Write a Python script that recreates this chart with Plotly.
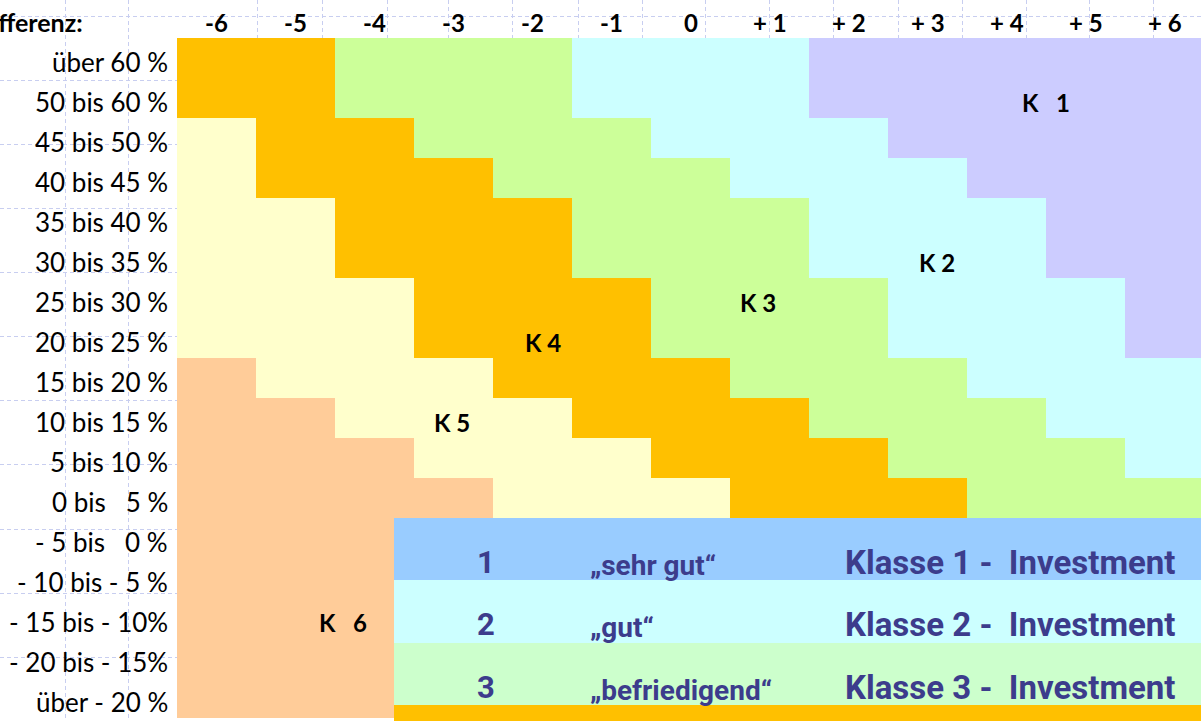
import plotly.graph_objects as go

# ---------------- data ----------------
col_labels = ["-6", "-5", "-4", "-3", "-2", "-1", "0", "+ 1", "+ 2", "+ 3", "+ 4", "+ 5", "+ 6"]
row_labels = ["über 60 %", "50 bis 60 %", "45 bis 50 %", "40 bis 45 %", "35 bis 40 %",
              "30 bis 35 %", "25 bis 30 %", "20 bis 25 %", "15 bis 20 %", "10 bis 15 %",
              "5 bis 10 %", "0 bis \u00a0 5 %", "- 5 bis \u00a0 0 %", "- 10 bis - 5 %",
              "- 15 bis - 10%", "- 20 bis - 15%", "über - 20 %"]

# class (K1..K6) of every cell, one list per row (top to bottom)
classes = [
    [4, 4, 3, 3, 3, 2, 2, 2, 1, 1, 1, 1, 1],
    [4, 4, 3, 3, 3, 2, 2, 2, 1, 1, 1, 1, 1],
    [5, 4, 4, 3, 3, 3, 2, 2, 2, 1, 1, 1, 1],
    [5, 4, 4, 4, 3, 3, 3, 2, 2, 2, 1, 1, 1],
    [5, 5, 4, 4, 4, 3, 3, 3, 2, 2, 2, 1, 1],
    [5, 5, 4, 4, 4, 3, 3, 3, 2, 2, 2, 1, 1],
    [5, 5, 5, 4, 4, 4, 3, 3, 3, 2, 2, 2, 1],
    [5, 5, 5, 4, 4, 4, 3, 3, 3, 2, 2, 2, 1],
    [6, 5, 5, 5, 4, 4, 4, 3, 3, 3, 2, 2, 2],
    [6, 6, 5, 5, 5, 4, 4, 4, 3, 3, 3, 2, 2],
    [6, 6, 6, 5, 5, 5, 4, 4, 4, 3, 3, 3, 2],
    [6, 6, 6, 6, 5, 5, 5, 4, 4, 4, 3, 3, 3],
    [6, 6, 6, 6, 6, 6, 6, 6, 6, 6, 6, 6, 6],
    [6, 6, 6, 6, 6, 6, 6, 6, 6, 6, 6, 6, 6],
    [6, 6, 6, 6, 6, 6, 6, 6, 6, 6, 6, 6, 6],
    [6, 6, 6, 6, 6, 6, 6, 6, 6, 6, 6, 6, 6],
    [6, 6, 6, 6, 6, 6, 6, 6, 6, 6, 6, 6, 6],
]
class_colors = ["#CCCCFF", "#CCFFFF", "#CCFF99", "#FFC000", "#FFFFCC", "#FFCC99"]  # K1..K6
class_names = ["K \u00a0 1", "K 2", "K 3", "K 4", "K 5", "K \u00a0 6"]
class_label_pos = [(10.5, 1.0), (9.12, 5.0), (6.85, 6.0), (4.13, 7.0), (2.98, 9.0), (1.6, 14.0)]

legend_nums = ["1", "2", "3"]
legend_grades = ["\u201esehr gut\u201c", "\u201egut\u201c", "\u201ebefriedigend\u201c"]
legend_classes = ["Klasse 1 - \u00a0Investment", "Klasse 2 - \u00a0Investment", "Klasse 3 - \u00a0Investment"]
legend_colors = ["#99CCFF", "#CCFFFF", "#CCFFCC", "#FFC000"]

# ---------------- geometry helpers (pixel -> data) ----------------
W, H = 1201, 721
CW, RH = 79.0, 40.0
X0PX, Y0PX = 177.0, 38.0


def xd(px):
    return (px - X0PX) / CW - 0.5


def yd(py):
    return (py - Y0PX) / RH - 0.5


n = len(class_colors)
cscale = []
for i, c in enumerate(class_colors):
    cscale.append([i / n, c])
    cscale.append([(i + 1) / n, c])

fig = go.Figure()
fig.add_trace(go.Heatmap(
    x=list(range(len(col_labels))), y=list(range(len(row_labels))), z=classes,
    colorscale=cscale, zmin=0.5, zmax=n + 0.5, showscale=False, hoverinfo="skip",
    xgap=0, ygap=0,
))

LABEL_FONT = "Lato, 'Open Sans', sans-serif"
ann = []
# column headers
for i, t in enumerate(col_labels):
    ann.append(dict(x=i, y=yd(22), text=t, showarrow=False, xanchor="center", yanchor="middle",
                    font=dict(family=LABEL_FONT, size=24, color="black", weight="bold")))
ann.append(dict(x=xd(85), y=yd(22), text="Differenz:", showarrow=False, xanchor="right", yanchor="middle",
                font=dict(family=LABEL_FONT, size=25, color="black", weight="bold")))
# row labels
for j, t in enumerate(row_labels):
    ann.append(dict(x=xd(170), y=j, yshift=-4, text=t, showarrow=False, xanchor="right", yanchor="middle",
                    font=dict(family=LABEL_FONT, size=26, color="black")))
# class labels
for (cx, cy), t in zip(class_label_pos, class_names):
    ann.append(dict(x=cx, y=cy, yshift=-4, text=t, showarrow=False, xanchor="center", yanchor="middle",
                    font=dict(family=LABEL_FONT, size=24, color="black", weight="bold")))

# legend box
shapes = []
band_px = [518, 580, 643, 705, 730]
for k, c in enumerate(legend_colors):
    shapes.append(dict(type="rect", xref="x", yref="y", x0=xd(394), x1=xd(1230),
                       y0=yd(band_px[k]), y1=yd(band_px[k + 1]), fillcolor=c, line=dict(width=0),
                       layer="above"))
LEG = "#3C3C8C"
LEG_FONT = "Roboto, 'Liberation Sans', Arial, sans-serif"
for k in range(3):
    base = band_px[k] + 44
    ann.append(dict(x=xd(486), y=yd(base), text=legend_nums[k], showarrow=False, xanchor="center",
                    yanchor="middle", font=dict(family=LEG_FONT, size=31, color=LEG, weight="bold")))
    ann.append(dict(x=xd(588), y=yd(base + 3), text=legend_grades[k], showarrow=False, xanchor="left",
                    yanchor="middle", font=dict(family=LEG_FONT, size=28, color=LEG, weight="bold")))
    ann.append(dict(x=xd(843), y=yd(base), text=legend_classes[k], showarrow=False, xanchor="left",
                    yanchor="middle", font=dict(family=LEG_FONT, size=33, color=LEG, weight="bold")))

grid_x_px = [1, 65, 128, 257, 322, 387, 448, 512, 578, 642, 705, 769, 833, 898, 962, 1026, 1089, 1153]
grid_y_px = [16, 80, 144, 208, 272, 336, 400, 464, 529, 593, 657, 720]

fig.update_layout(
    width=W, height=H, margin=dict(l=0, r=0, t=0, b=0),
    paper_bgcolor="white", plot_bgcolor="white",
    xaxis=dict(range=[xd(0), xd(W)], showticklabels=False, ticks="", tickvals=[xd(p) for p in grid_x_px],
               showgrid=True, gridcolor="#C8CEF0", griddash="4px,3px", gridwidth=1,
               zeroline=False, showline=False, fixedrange=True),
    yaxis=dict(range=[yd(H), yd(0)], showticklabels=False, ticks="", tickvals=[yd(p) for p in grid_y_px],
               showgrid=True, gridcolor="#C8CEF0", griddash="4px,3px", gridwidth=1,
               zeroline=False, showline=False, fixedrange=True),
    annotations=ann, shapes=shapes, showlegend=False,
)
fig.write_html("out.html", config={"displayModeBar": False},
               post_script="document.body.style.margin='0px';")
